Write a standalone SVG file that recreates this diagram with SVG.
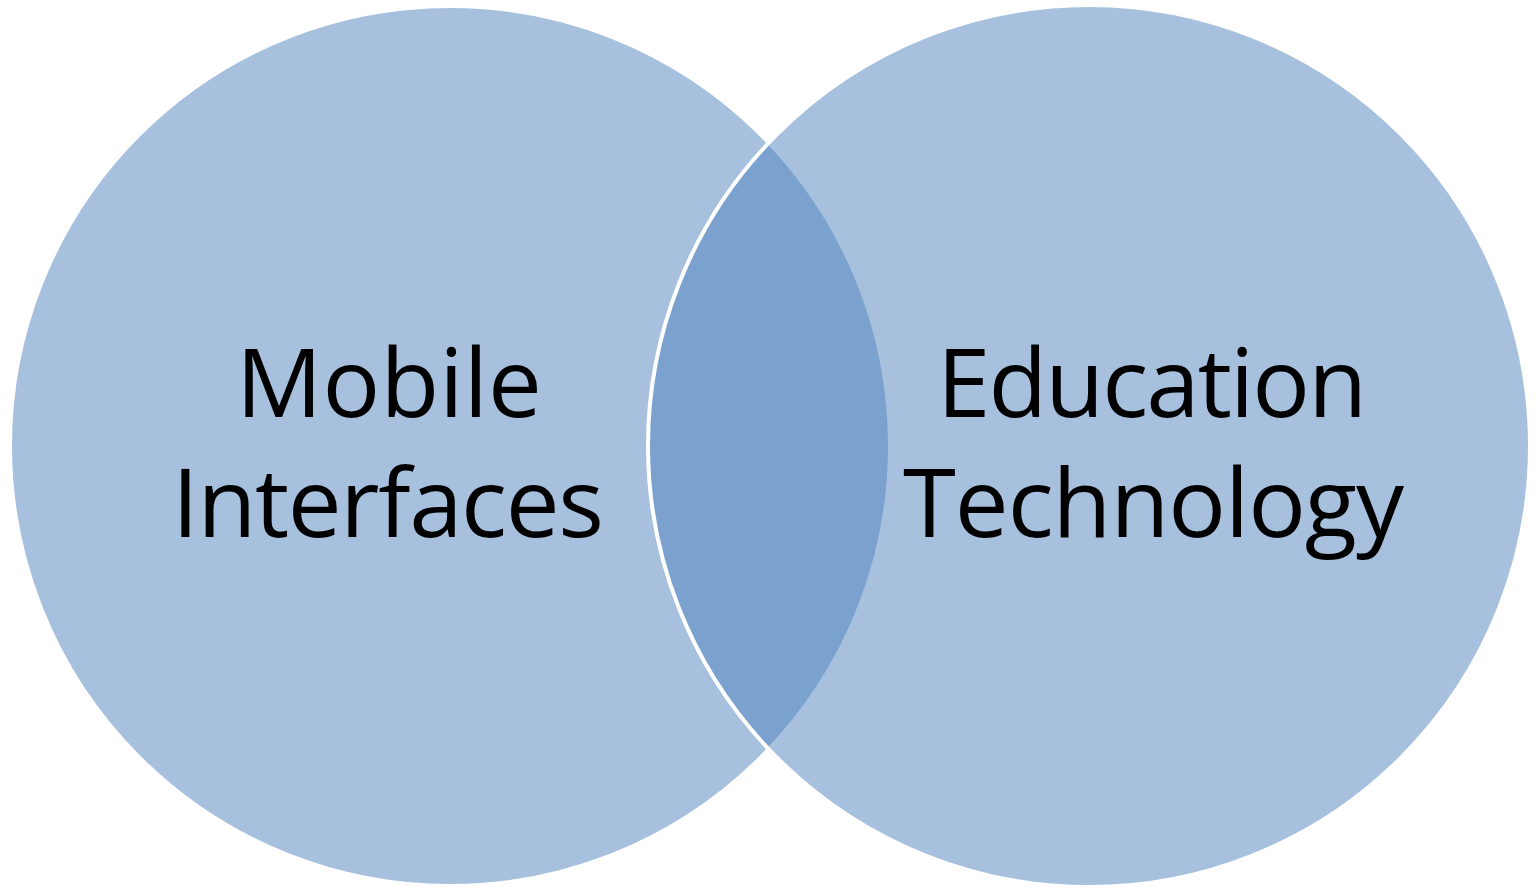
<svg xmlns="http://www.w3.org/2000/svg" width="1537" height="886" viewBox="0 0 1537 886">
  <style>
    .set { fill: #4F81BD; fill-opacity: 0.5; stroke: #FFFFFF; stroke-width: 4; }
    .label { font-family: "Open Sans", "Noto Sans", "Liberation Sans", sans-serif; font-size: 96px; fill: #000000; font-variant-ligatures: none; }
  </style>
  <rect width="1537" height="886" fill="#FFFFFF"/>
  <g id="mobile-interfaces">
    <circle class="set" cx="450" cy="446" r="440"/>
    <text class="label" x="236" y="417" textLength="306" lengthAdjust="spacing">Mobile</text>
    <text class="label" x="172" y="537" textLength="432" lengthAdjust="spacing">Interfaces</text>
  </g>
  <g id="education-technology">
    <circle class="set" cx="1089" cy="446" r="441"/>
    <text class="label" x="937" y="417" textLength="430" lengthAdjust="spacing">Education</text>
    <text class="label" x="903" y="537" textLength="501" lengthAdjust="spacing">Technology</text>
  </g>
</svg>
